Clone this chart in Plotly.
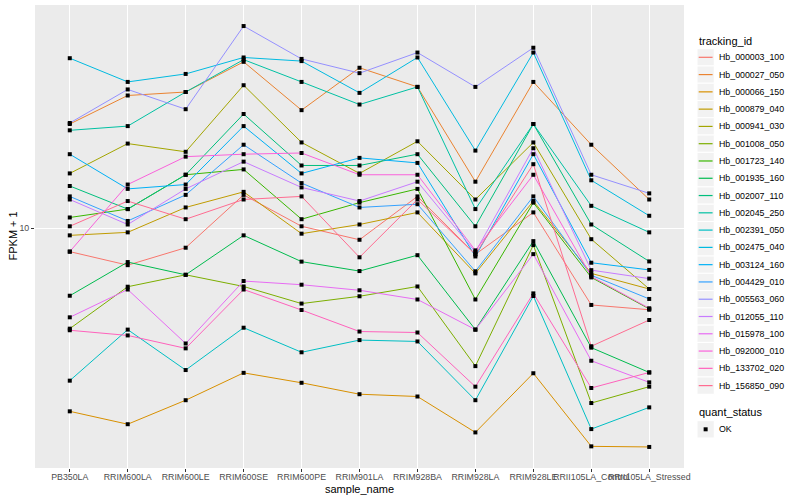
import math
import plotly.graph_objects as go

samples = ["PB350LA", "RRIM600LA", "RRIM600LE", "RRIM600SE", "RRIM600PE", "RRIM901LA",
           "RRIM928BA", "RRIM928LA", "RRIM928LE", "RRII105LA_Control", "RRII105LA_Stressed"]

tracking_ids = ["Hb_000003_100", "Hb_000027_050", "Hb_000066_150", "Hb_000879_040", "Hb_000941_030",
                "Hb_001008_050", "Hb_001723_140", "Hb_001935_160", "Hb_002007_110", "Hb_002045_250",
                "Hb_002391_050", "Hb_002475_040", "Hb_003124_160", "Hb_004429_010", "Hb_005563_060",
                "Hb_012055_110", "Hb_015978_100", "Hb_092000_010", "Hb_133702_020", "Hb_156850_090"]

colors = ["#F8766D", "#EA8331", "#D89000", "#C09B00", "#A3A500", "#7CAE00", "#39B600", "#00BB4E",
          "#00BF7D", "#00C1A3", "#00BFC4", "#00BAE0", "#00B0F6", "#35A2FF", "#9590FF", "#C77CFF",
          "#E76BF3", "#FA62DB", "#FF62BC", "#FF6C91"]

quant_status = ["OK"]

# FPKM + 1 per sample
hb_000003_100 = [8.79, 8.16, 8.98, 12.0, 10.1, 9.38, 11.9, 8.66, 10.9, 6.56, 6.39]
hb_000027_050 = [17.7, 20.7, 21.1, 24.9, 19.1, 24.1, 21.7, 12.9, 22.3, 15.8, 11.7]
hb_000066_150 = [3.66, 3.41, 3.89, 4.52, 4.28, 4.02, 3.97, 3.26, 4.51, 3.02, 3.01]
hb_000879_040 = [9.61, 9.77, 11.2, 12.2, 9.70, 10.2, 10.9, 7.80, 11.6, 7.80, 7.16]
hb_000941_030 = [13.5, 15.9, 15.2, 21.9, 16.0, 13.5, 16.1, 11.7, 16.0, 9.41, 7.16]
hb_001008_050 = [5.76, 7.25, 7.74, 7.26, 6.61, 6.88, 7.26, 4.69, 9.11, 3.83, 4.19]
hb_001723_140 = [10.6, 11.1, 13.4, 13.8, 10.5, 11.5, 12.4, 6.76, 11.5, 7.63, 6.42]
hb_001935_160 = [6.90, 8.30, 7.74, 9.61, 8.32, 7.90, 8.62, 5.73, 9.31, 5.19, 4.53]
hb_002007_110 = [12.6, 11.1, 13.4, 18.7, 14.1, 14.1, 15.0, 10.1, 17.7, 10.2, 8.33]
hb_002045_250 = [17.1, 17.5, 21.1, 25.2, 22.3, 19.7, 21.7, 11.1, 17.7, 11.3, 9.77]
hb_002391_050 = [4.33, 5.73, 4.59, 5.79, 5.06, 5.41, 5.37, 3.89, 6.89, 3.32, 3.74]
hb_002475_040 = [25.4, 22.3, 23.3, 25.5, 25.0, 21.0, 25.5, 15.3, 26.2, 13.0, 10.7]
hb_003124_160 = [15.0, 12.4, 12.7, 17.5, 13.5, 14.7, 14.3, 8.56, 15.0, 8.27, 7.95]
hb_004429_010 = [11.9, 10.4, 12.0, 15.8, 12.8, 11.2, 11.4, 7.89, 11.9, 7.72, 6.78]
hb_005563_060 = [17.8, 21.4, 19.2, 30.3, 25.3, 23.4, 26.2, 21.7, 26.9, 13.4, 12.1]
hb_012055_110 = [11.7, 10.2, 12.4, 14.4, 12.5, 11.6, 12.9, 8.77, 15.5, 7.94, 7.58]
hb_015978_100 = [6.13, 7.14, 5.31, 7.48, 7.33, 7.11, 6.76, 5.73, 8.67, 4.83, 4.29]
hb_092000_010 = [8.79, 12.7, 14.8, 15.0, 15.1, 13.4, 13.4, 8.85, 13.4, 7.67, 6.44]
hb_133702_020 = [5.71, 5.55, 5.17, 7.14, 6.38, 5.67, 5.64, 4.19, 6.99, 4.16, 4.53]
hb_156850_090 = [10.1, 11.6, 10.5, 11.7, 11.9, 8.52, 11.7, 8.66, 14.2, 5.23, 6.04]

series = [hb_000003_100, hb_000027_050, hb_000066_150, hb_000879_040, hb_000941_030,
          hb_001008_050, hb_001723_140, hb_001935_160, hb_002007_110, hb_002045_250,
          hb_002391_050, hb_002475_040, hb_003124_160, hb_004429_010, hb_005563_060,
          hb_012055_110, hb_015978_100, hb_092000_010, hb_133702_020, hb_156850_090]

FONT = "Liberation Sans"
W, H = 800, 500
ML, MR, MT, MB = 35, 116, 5, 32
PW, PH = W - ML - MR, H - MT - MB


def px_x(px):
    return (px - ML) / PW


def px_y(py):
    return (H - MB - py) / PH


fig = go.Figure()

for name, vals, col in zip(tracking_ids, series, colors):
    fig.add_trace(go.Scatter(x=samples, y=vals, mode="lines", name=name,
                             line=dict(color=col, width=1), showlegend=False))

all_x = [s for vals in series for s in samples]
all_y = [v for vals in series for v in vals]
fig.add_trace(go.Scatter(x=all_x, y=all_y, mode="markers", name=quant_status[0],
                         marker=dict(color="black", symbol="square", size=4),
                         showlegend=False))

lo = math.log10(min(all_y))
hi = math.log10(max(all_y))
pad = 0.05 * (hi - lo)

shapes = []
annotations = []

# axis titles
annotations.append(dict(text="sample_name", x=0.5, xref="paper", y=px_y(488.5), yref="paper",
                        xanchor="center", yanchor="middle", showarrow=False,
                        font=dict(family=FONT, size=11, color="black")))
annotations.append(dict(text="FPKM + 1", x=px_x(12), xref="paper", y=0.5, yref="paper",
                        xanchor="center", yanchor="middle", showarrow=False, textangle=-90,
                        font=dict(family=FONT, size=11, color="black")))

# legend: tracking_id
KEY = 17.28
LX0 = 697.0
annotations.append(dict(text="tracking_id", x=px_x(LX0), xref="paper", y=px_y(40.7), yref="paper",
                        xanchor="left", yanchor="middle", showarrow=False,
                        font=dict(family=FONT, size=11, color="black")))
first_c = 57.3
for i, (name, col) in enumerate(zip(tracking_ids, colors)):
    cy = first_c + KEY * i
    shapes.append(dict(type="rect", xref="paper", yref="paper",
                       x0=px_x(LX0), x1=px_x(LX0 + KEY), y0=px_y(cy - KEY / 2), y1=px_y(cy + KEY / 2),
                       fillcolor="#F2F2F2", line=dict(color="white", width=1), layer="above"))
    shapes.append(dict(type="line", xref="paper", yref="paper",
                       x0=px_x(LX0 + 1.7), x1=px_x(LX0 + KEY - 1.7), y0=px_y(cy), y1=px_y(cy),
                       line=dict(color=col, width=1.2), layer="above"))
    annotations.append(dict(text=name, x=px_x(LX0 + KEY + 2.6), xref="paper", y=px_y(cy), yref="paper",
                            xanchor="left", yanchor="middle", showarrow=False,
                            font=dict(family=FONT, size=8.8, color="black")))

# legend: quant_status
annotations.append(dict(text="quant_status", x=px_x(LX0), xref="paper", y=px_y(412.3), yref="paper",
                        xanchor="left", yanchor="middle", showarrow=False,
                        font=dict(family=FONT, size=11, color="black")))
qc = 429.3
shapes.append(dict(type="rect", xref="paper", yref="paper",
                   x0=px_x(LX0), x1=px_x(LX0 + KEY), y0=px_y(qc - KEY / 2), y1=px_y(qc + KEY / 2),
                   fillcolor="#F2F2F2", line=dict(color="white", width=1), layer="above"))
shapes.append(dict(type="rect", xref="paper", yref="paper",
                   x0=px_x(LX0 + KEY / 2 - 2), x1=px_x(LX0 + KEY / 2 + 2),
                   y0=px_y(qc - 2), y1=px_y(qc + 2),
                   fillcolor="black", line=dict(width=0), layer="above"))
annotations.append(dict(text=quant_status[0], x=px_x(LX0 + KEY + 2.6), xref="paper", y=px_y(qc), yref="paper",
                        xanchor="left", yanchor="middle", showarrow=False,
                        font=dict(family=FONT, size=8.8, color="black")))

fig.update_layout(
    width=W, height=H,
    margin=dict(l=ML, r=MR, t=MT, b=MB, autoexpand=False),
    showlegend=False,
    paper_bgcolor="white",
    plot_bgcolor="#EBEBEB",
    font=dict(family=FONT, color="#000000"),
    xaxis=dict(type="category", categoryorder="array", categoryarray=samples,
               range=[-0.6, len(samples) - 0.4], tickangle=0, automargin=False,
               showgrid=True, gridcolor="white", gridwidth=1.1,
               ticks="outside", ticklen=3, tickcolor="#333333",
               ticklabelstandoff=-3,
               tickfont=dict(family=FONT, size=8.8, color="#4D4D4D"),
               zeroline=False, showline=False),
    yaxis=dict(type="log", range=[lo - pad, hi + pad], automargin=False,
               tickvals=[10], ticktext=["10"],
               showgrid=True, gridcolor="white", gridwidth=1.1,
               ticks="outside", ticklen=3, tickcolor="#333333",
               tickfont=dict(family=FONT, size=8.8, color="#4D4D4D"),
               zeroline=False, showline=False),
    shapes=shapes,
    annotations=annotations,
)

fig.write_html("out.html", config={"displayModeBar": False},
               post_script="document.body.style.margin='0';document.body.style.overflow='hidden';")
